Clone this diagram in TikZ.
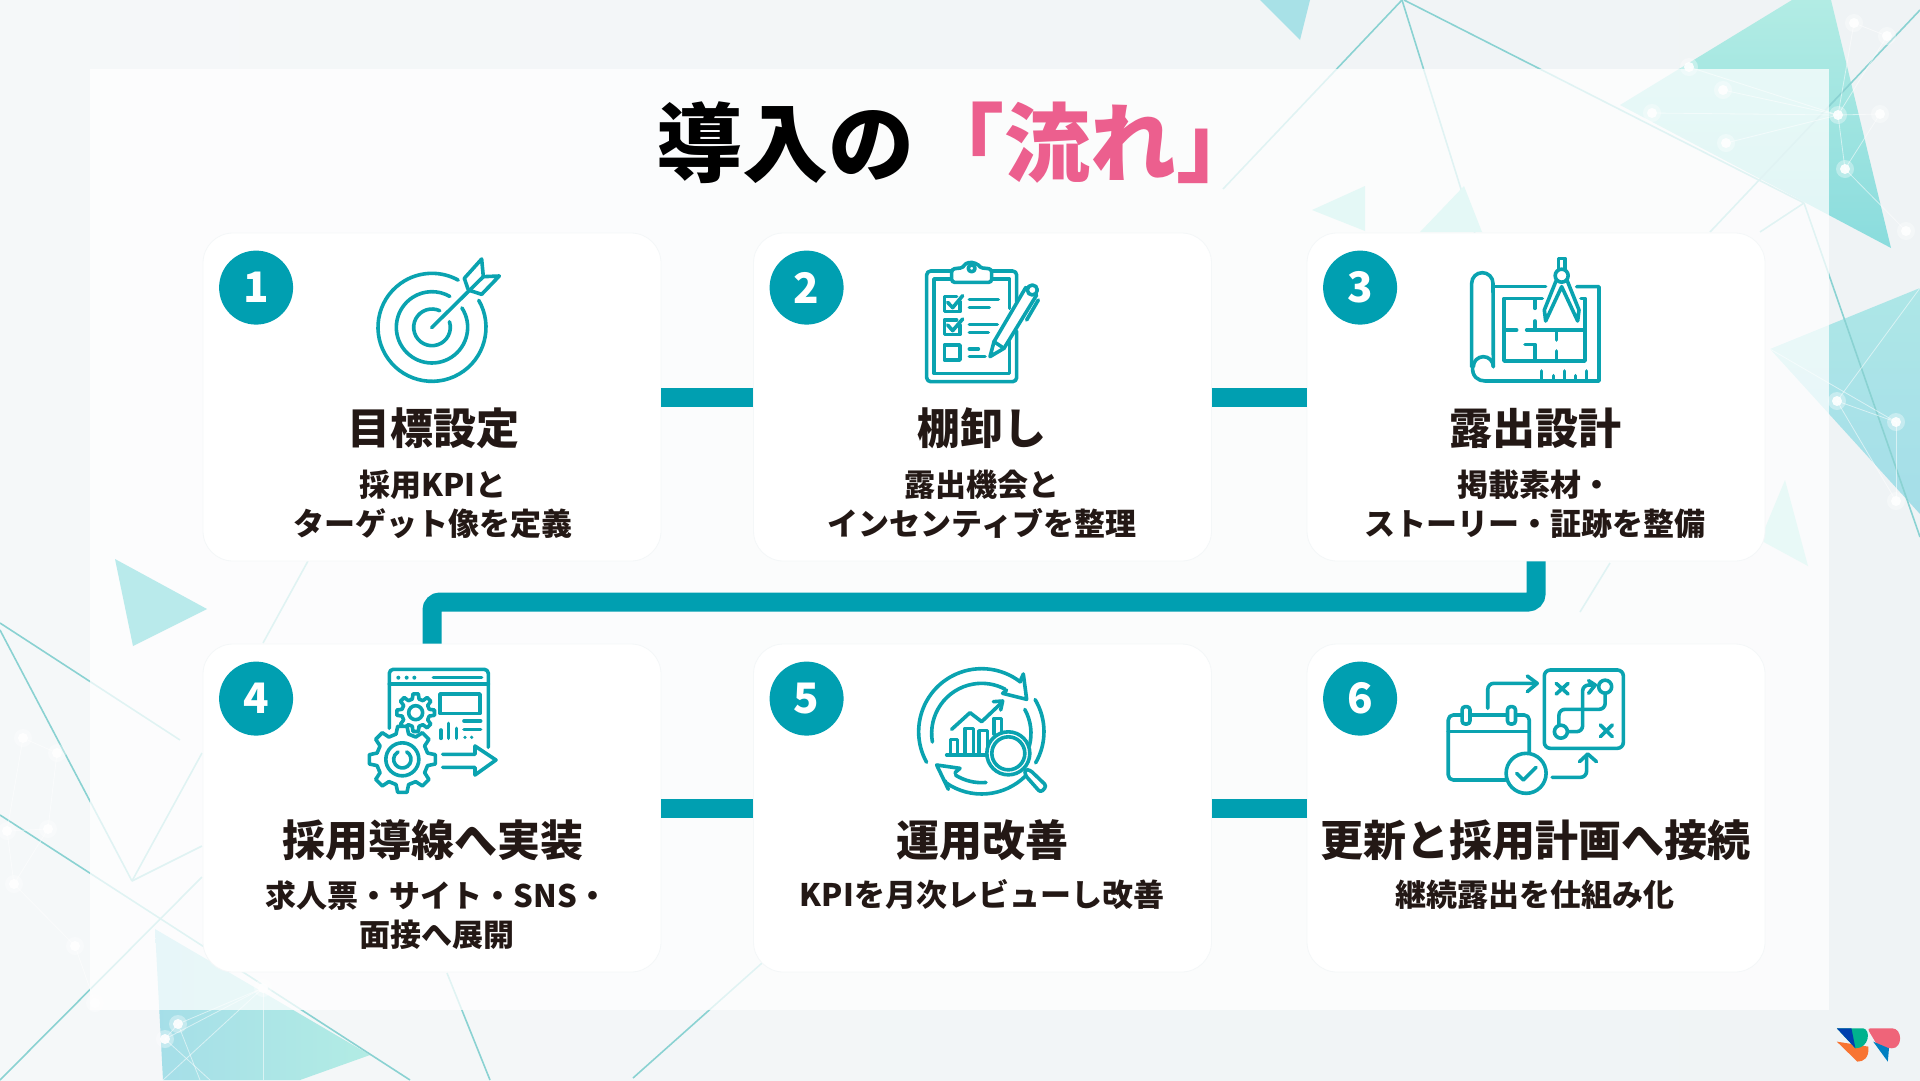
\documentclass[tikz,border=0pt]{standalone}
\usepackage{fontspec}
\setmainfont{Noto Sans CJK JP}
\usepackage{xcolor}
\usepackage{tikz}
\usetikzlibrary{arrows.meta,calc}
\definecolor{flowteal}{HTML}{009FB1}
\definecolor{flowicon}{HTML}{0AA3B0}
\definecolor{flowpink}{HTML}{EC5F8E}
\definecolor{flowink}{HTML}{231815}
\definecolor{flowbase}{HTML}{EFF3F5}
\definecolor{flowmint}{HTML}{B2ECE4}
\definecolor{flowsky}{HTML}{A5DEE8}
\definecolor{flowaqua}{HTML}{8ADCDD}
\definecolor{flowline}{HTML}{8AD2D2}
\tikzset{
  flow panel/.style={fill=white,fill opacity=.74},
  flow card/.style={fill=white,draw=flowbase!70,line width=.8pt,rounded corners=30pt,minimum width=458pt,minimum height=328pt,inner sep=0pt},
  flow badge/.style={circle,fill=flowteal,text=white,minimum size=74pt,inner sep=0pt,font=\fontsize{42}{42}\selectfont\bfseries},
  flow head/.style={text=flowink,font=\fontsize{43}{50}\selectfont\bfseries,inner sep=0pt},
  flow note/.style={text=flowink,align=center,font=\fontsize{31}{39}\selectfont\bfseries,inner sep=0pt},
  flow link/.style={draw=flowteal,line width=19pt},
  flow icon/.style={draw=flowicon,line width=3.6pt,line cap=round,line join=round},
  flow edge/.style={flowline,line width=1.6pt},
  flow net/.style={white,line width=.8pt,opacity=.55},
  flow frame/.style 2 args={shift={(#1,#2)},x=.3333pt,y=-.3333pt},
  flow wide/.style={shift={(1300,640)},x=.3953pt,y=-.3333pt}
}
\newcommand{\ringarc}[5]{\draw[flow icon] (#1,#2) ++(#4:#3) arc[start angle=#4,end angle=#5,radius=#3];}
\newcommand{\gearshape}[4]{%
  \draw[flow icon,fill=white,shift={(#1,#2)}] (-8:#3) \foreach \a in {0,45,...,315} {-- (\a-8:#3) -- (\a+8:#3) -- (\a+14:#4) -- (\a+31:#4)} -- cycle;}
\begin{document}
\begin{tikzpicture}[x=1pt,y=-1pt]
  \useasboundingbox (0,0) rectangle (1920,1080);
  \shade[left color=flowbase!60!white,right color=flowbase] (0,0) rectangle (1920,1080);
  % background below the panel
  \shade[top color=flowmint,bottom color=flowaqua] (1620,105) -- (1792,0) -- (1831,0) -- (1891,248) -- (1806,203) -- cycle;
  \shade[top color=flowaqua!70!white,bottom color=flowsky] (1770,349) -- (1920,288) -- (1920,514) -- cycle;
  \shade[left color=flowsky,right color=flowmint] (155,929) -- (370,1055) -- (300,1080) -- (163,1080) -- cycle;
  \fill[flowsky!75!flowmint] (1260,0) -- (1310,0) -- (1300,40) -- cycle;
  \foreach \xa/\ya/\xb/\yb in {1402/0/1223/189,1402/0/1475/234,1404/0/1804/203,1804/203/1920/537,1920/10/1710/232,1804/203/1760/232,0/623/180/740,0/630/132/881,132/881/202/753,132/881/202/846,0/815/410/1080,0/1080/202/877,633/1078/771/955,447/973/490/1080,1580/612/1610/563,308/561/263/643}
    \draw[flow edge] (\xa,\ya) -- (\xb,\yb);
  \foreach \xa/\ya/\xb/\yb in {1854/23/1887/36,1854/23/1838/115,1887/36/1838/115,1838/115/1880/114,1838/115/1845/169,1880/114/1845/169,1845/169/1906/231,1689/67/1838/115,1723/90/1838/115,1652/113/1838/115,1726/143/1838/115,1837/401/1896/422,1896/422/1896/501,1837/401/1896/501,1770/349/1896/422,1920/288/1837/401,23/738/57/753,23/738/7/831,57/753/48/829,7/831/48/829,7/831/14/884,48/829/14/884,14/884/75/946,75/946/95/1003,263/988/178/1024,263/988/165/1039,178/1024/165/1039,263/988/163/1080,263/988/263/1080,178/1024/200/1080,165/1039/210/1080}
    \draw[flow net] (\xa,\ya) -- (\xb,\yb);
  \foreach \dx/\dy in {1854/23,1887/36,1838/115,1880/114,1845/169,1906/231,1837/401,1896/422,1896/501,1689/67,1723/90,1652/113,1726/143,23/738,57/753,7/831,48/829,14/884,75/946,95/1003,178/1024,165/1039,263/988}{
    \fill[white,opacity=.35] (\dx,\dy) circle[radius=9pt];
    \fill[white,opacity=.9] (\dx,\dy) circle[radius=5pt];
  }
  \fill[flow panel] (90,69) rectangle (1829,1010);
  % shapes that sit on the panel
  \fill[flowaqua!60!white] (115,559) -- (207,609) -- (133,646) -- cycle;
  \fill[flowmint!35!white] (1365,186) -- (1312,210) -- (1365,231) -- cycle;
  \fill[flowmint!35!white] (1464,186) -- (1420,232) -- (1482,232) -- cycle;
  \fill[flowmint!30!white] (1785,480) -- (1808,566) -- (1760,540) -- cycle;
  \node[font=\fontsize{86}{90}\selectfont\bfseries,inner sep=0pt] (titlemain) at (785,143) {導入の};
  \node[text=flowpink,font=\fontsize{86}{90}\selectfont\bfseries,inner sep=0pt] (titleflow) at (1090,143) {「流れ」};
  \foreach \n/\cx/\cy in {1/432/397,2/982.5/397,3/1536/397,4/432/808,5/982.5/808,6/1536/808}{
    \node[flow card] (card\n) at (\cx,\cy) {};
    \node[flow badge] (badge\n) at ($(card\n.north west)+(53.5,55)$) {\n};
  }
  \draw[flow link] (card1) -- (card2);
  \draw[flow link] (card2) -- (card3);
  \draw[flow link] (card4) -- (card5);
  \draw[flow link] (card5) -- (card6);
  \coordinate (turn) at (982,602);
  \draw[flow link,rounded corners=8pt] (card3.south) |- (turn) -| (card4.north);
  \foreach \n/\cx/\nx/\hy/\ny/\headtext/\notetext in {
    1/433/433/428/504/目標設定/{採用KPIと\\ターゲット像を定義},
    2/982/982/428/504/棚卸し/{露出機会と\\インセンティブを整理},
    3/1535/1535/428/504/露出設計/{掲載素材・\\ストーリー・証跡を整備},
    4/433/437/840/915/採用導線へ実装/{求人票・サイト・SNS・\\面接へ展開},
    5/982/982/840/895/運用改善/{KPIを月次レビューし改善},
    6/1535/1535/840/895/更新と採用計画へ接続/{継続露出を仕組み化}}{
    \node[flow head] (head\n) at (\cx,\hy) {\headtext};
    \node[flow note] (note\n) at (\nx,\ny) {\notetext};
  }
  % target
  \begin{scope}[flow frame={360}{245}]
    \ringarc{216}{247}{162}{-30}{299}
    \ringarc{216}{247}{107}{-33}{300}
    \ringarc{216}{247}{55}{-18}{295}
    \draw[flow icon] (215,248) -- (370,95);
    \draw[flow icon] (313,100) -- (365,42) -- (370,95) -- (418,93) -- (365,148) -- (325,135) -- cycle;
  \end{scope}
  % checklist
  \begin{scope}[flow frame={910}{245}]
    \draw[flow icon,rounded corners=4pt] (320,170) -- (320,78) -- (50,78) -- (50,410) -- (320,410) -- (320,258);
    \draw[flow icon] (298,190) -- (298,102) -- (72,102) -- (72,385) -- (298,385) -- (298,290);
    \draw[flow icon,fill=white,rounded corners=3pt] (125,112) -- (125,72) -- (160,68) arc[start angle=205,end angle=335,radius=27] -- (245,72) -- (245,112) -- cycle;
    \draw[flow icon] (185,70) circle[radius=3.4pt];
    \draw[flow icon] (150,170) -- (150,200) -- (103,200) -- (103,155) -- (140,155);
    \draw[flow icon] (113,172) -- (128,188) -- (158,152);
    \draw[flow icon] (178,163) -- (265,163) (178,188) -- (238,188);
    \draw[flow icon] (150,240) -- (150,268) -- (103,268) -- (103,225) -- (140,225);
    \draw[flow icon] (113,240) -- (128,257) -- (158,222);
    \draw[flow icon] (178,238) -- (262,238) (178,262) -- (235,262);
    \draw[flow icon] (103,300) rectangle (150,345);
    \draw[flow icon] (178,312) -- (205,312) (178,335) -- (225,335);
    \draw[flow icon,fill=white] (240,335) -- (252,290) -- (347,128) -- (380,150) -- (282,310) -- cycle;
    \draw[flow icon] (252,290) -- (282,310);
    \draw[flow icon,fill=white] (367,135) circle[radius=5pt];
    \draw[flow icon] (385,165) -- (350,225);
  \end{scope}
  % blueprint
  \begin{scope}[flow frame={1455}{245}]
    \draw[flow icon] (50,365) -- (50,115) arc[start angle=180,end angle=360,radius=32] -- (115,365);
    \draw[flow icon] (115,365) arc[start angle=0,end angle=-180,radius=30];
    \draw[flow icon] (53,365) .. controls (50,395) and (70,408) .. (90,408) -- (432,408) -- (432,125) -- (365,125);
    \draw[flow icon] (115,125) -- (272,125);
    \draw[flow icon] (262,160) -- (147,160) -- (147,348) -- (390,348) -- (390,160) -- (378,160);
    \draw[flow icon] (240,165) -- (240,190) (240,228) -- (240,255) (147,255) -- (185,255) (215,255) -- (390,255);
    \draw[flow icon] (305,255) -- (305,285) (305,318) -- (305,348) (210,298) -- (240,298) -- (240,348);
    \draw[flow icon] (260,378) -- (260,408) (295,392) -- (295,408) (328,378) -- (328,408) (362,392) -- (362,408) (395,378) -- (395,408);
    \draw[flow icon,fill=white] (303,108) -- (268,195) -- (272,228) -- (320,125) -- (368,228) -- (372,195) -- (337,108);
    \draw[flow icon] (310,75) -- (310,40) -- (330,40) -- (330,75);
    \draw[flow icon,fill=white] (320,92) circle[radius=6.5pt];
  \end{scope}
  % window and gears
  \begin{scope}[flow frame={360}{660}]
    \draw[flow icon,rounded corners=4pt] (88,205) -- (88,28) -- (385,28) -- (385,262);
    \draw[flow icon] (88,72) -- (385,72);
    \foreach \dx in {115,140,163} \fill[flowicon] (\dx,53) circle[radius=2pt];
    \draw[flow icon] (220,53) -- (365,53);
    \draw[flow icon] (240,102) rectangle (360,160);
    \draw[flow icon] (243,210) -- (243,235) (265,190) -- (265,235) (290,205) -- (290,235);
    \draw[flow icon] (312,183) -- (362,183) (312,208) -- (362,208);
    \foreach \dx in {315,335} \fill[flowicon] (\dx,232) circle[radius=1.8pt];
    \gearshape{167}{158}{57}{42}
    \draw[flow icon] (167,158) circle[radius=7pt];
    \gearshape{127}{298}{100}{78}
    \draw[flow icon] (127,298) circle[radius=16.5pt];
    \ringarc{127}{298}{26}{-60}{240}
    \draw[flow icon] (248,283) -- (345,283) -- (345,258) -- (408,300) -- (345,345) -- (345,322) -- (248,322);
  \end{scope}
  % review cycle
  \begin{scope}[flow frame={910}{660}]
    \ringarc{215}{215}{189}{151}{308}
    \ringarc{215}{220}{150}{170}{298}
    \draw[flow icon] (330,65) -- (340,42) -- (350,118) -- (278,100) -- (290,90);
    \ringarc{215}{215}{187}{-31}{30}
    \ringarc{215}{220}{148}{-29}{15}
    \ringarc{215}{215}{187}{45}{125}
    \ringarc{215}{220}{148}{85}{122}
    \draw[flow icon] (105,362) -- (115,388) -- (80,315) -- (150,325) -- (135,338);
    \draw[flow icon] (125,208) -- (180,158) -- (215,185) -- (275,128);
    \draw[flow icon] (250,125) -- (278,123) -- (272,150);
    \draw[flow icon] (110,285) -- (235,285);
    \draw[flow icon] (122,285) -- (122,238) -- (142,238) -- (142,285);
    \draw[flow icon] (165,285) -- (165,205) -- (190,205) -- (190,285);
    \draw[flow icon] (207,285) -- (207,212) -- (232,212) -- (232,285);
    \draw[flow icon] (252,222) -- (252,175) -- (275,175) -- (275,215);
    \draw[flow icon,fill=white,rounded corners=3pt] (345,328) -- (360,330) -- (410,378) -- (392,398) -- (345,345) -- cycle;
    \draw[flow icon,fill=white] (295,280) circle[radius=21.5pt];
    \draw[flow icon] (295,280) circle[radius=16.5pt];
  \end{scope}
  % calendar and map
  \begin{scope}[flow wide]
    \draw[flow icon,rounded corners=5pt] (520,420) -- (375,420) -- (375,225) -- (580,225) -- (580,345);
    \draw[flow icon] (375,275) -- (580,275);
    \draw[flow icon,fill=white,rounded corners=3pt] (410,200) rectangle (430,252);
    \draw[flow icon,fill=white,rounded corners=3pt] (525,200) rectangle (545,252);
    \draw[flow icon,fill=white] (572,400) circle[radius=20pt];
    \draw[flow icon] (548,400) -- (565,420) -- (597,382);
    \draw[flow icon,rounded corners=6pt] (475,205) -- (475,130) -- (600,130);
    \draw[flow icon] (575,108) -- (600,130) -- (575,155);
    \draw[flow icon,rounded corners=6pt] (618,90) rectangle (818,325);
    \draw[flow icon] (648,130) -- (678,162) (678,130) -- (648,162) (760,255) -- (790,290) (790,255) -- (760,290);
    \draw[flow icon] (772,140) circle[radius=6.5pt];
    \draw[flow icon] (660,275) circle[radius=6.5pt];
    \draw[flow icon,rounded corners=6pt] (772,160) -- (772,208) -- (655,208) -- (655,255);
    \draw[flow icon,rounded corners=6pt] (680,275) -- (715,275) -- (715,135) -- (745,135);
    \draw[flow icon] (730,122) -- (747,135) -- (730,160);
    \draw[flow icon,rounded corners=6pt] (638,412) -- (725,412) -- (725,345);
    \draw[flow icon] (707,365) -- (728,342) -- (750,365);
    % corner mark
    \fill[flowpink!85!orange,rounded corners=3pt] (1435,1165) -- (1490,1165) .. controls (1525,1165) and (1525,1225) .. (1490,1225) -- (1460,1215) -- cycle;
    \fill[flowteal!80!blue] (1450,1205) -- (1490,1225) -- (1487,1265) -- cycle;
    \fill[orange!65!flowpink] (1358,1205) -- (1438,1220) .. controls (1440,1255) and (1425,1265) .. (1410,1265) -- cycle;
    \fill[flowteal!80!green] (1358,1165) -- (1425,1165) .. controls (1445,1170) and (1440,1225) .. (1405,1225) -- cycle;
    \fill[flowteal!50!blue!80!black] (1358,1165) -- (1395,1165) -- (1405,1225) -- cycle;
  \end{scope}
\end{tikzpicture}
\end{document}
